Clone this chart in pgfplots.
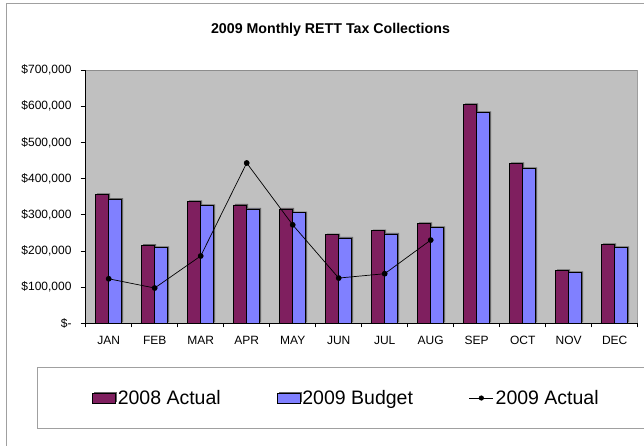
\documentclass[border=0pt]{standalone}
\usepackage{pgfplots}
\pgfplotsset{compat=1.18}
\usepackage{fontspec}
\setmainfont{Liberation Sans}
\definecolor{plum}{HTML}{7F1F5F}
\definecolor{peri}{HTML}{8080FF}
\definecolor{plotbg}{HTML}{C0C0C0}
\definecolor{framegray}{HTML}{A0A0A0}
\definecolor{boxgray}{HTML}{8C8C8C}
\begin{document}
\begin{tikzpicture}[x=1bp,y=1bp]
\useasboundingbox (0,0) rectangle (644,446);
\draw[framegray, line width=1bp] (6.7,-20) -- (6.7,442) -- (700,442);
\draw[framegray, line width=1bp] (37.3,17) rectangle (700,78.3);
\node[anchor=base, font=\fontsize{14.2bp}{16bp}\selectfont\bfseries] at (330.5,412.7) {2009 Monthly RETT Tax Collections};
\begin{axis}[
  at={(85.7bp,122.7bp)}, anchor=south west,
  scale only axis, width=552bp, height=253.3bp,
  xmin=-0.5, xmax=11.5, ymin=0, ymax=700000,
  axis lines*=left,
  axis line style={black, line width=0.8bp},
  axis background/.style={fill=plotbg},
  tick align=outside,
  /pgf/number format/assume math mode=true,
  xtick={0,...,11},
  xticklabels={JAN,FEB,MAR,APR,MAY,JUN,JUL,AUG,SEP,OCT,NOV,DEC},
  major x tick style={draw=none},
  minor xtick={-0.5,0.5,...,11.5},
  minor tick length=4bp,
  major tick length=5bp,
  tick style={black, line width=0.6bp},
  ytick={0,100000,...,700000},
  yticklabels={{\$-\hspace{8.7bp}},{\$100,000},{\$200,000},{\$300,000},{\$400,000},{\$500,000},{\$600,000},{\$700,000}},
  scaled y ticks=false,
  ticklabel style={font=\fontsize{12bp}{14bp}\selectfont},
  yticklabel style={inner sep=0pt, xshift=-9bp},
  xticklabel style={inner sep=0pt, yshift=-8bp},
  legend columns=3,
  legend style={at={(0.0114,-0.295)}, anchor=west, draw=none, fill=none,
    inner sep=0pt, font=\fontsize{19.5bp}{22bp}\selectfont,
    /tikz/every odd column/.append style={column sep=2bp},
    /tikz/every even column/.append style={column sep=56bp},
    nodes={inner sep=0pt}},
  legend cell align=left,
]
\draw[boxgray, line width=0.8bp] (rel axis cs:0,1) -- (rel axis cs:1,1) -- (rel axis cs:1,0);
\addplot[ybar, bar width=13bp, bar shift=-6.5bp, fill=plum, draw=black, line width=0.6bp,
  preaction={draw=none, fill=black!60, transform canvas={xshift=1.5bp,yshift=1bp}},
  legend image code/.code={\draw[fill=plum, draw=black, line width=0.6bp] (0bp,-5bp) rectangle (23bp,5bp);}]
  coordinates {(0,356000)(1,216000)(2,337000)(3,327000)(4,316000)(5,245000)(6,256000)(7,276000)(8,605000)(9,442000)(10,146000)(11,218000)};
\addlegendentry{2008 Actual}
\addplot[ybar, bar width=13bp, bar shift=6.5bp, fill=peri, draw=black, line width=0.6bp,
  preaction={draw=none, fill=black!60, transform canvas={xshift=1.5bp,yshift=1bp}},
  legend image code/.code={\draw[fill=peri, draw=black, line width=0.6bp] (0bp,-5bp) rectangle (23bp,5bp);}]
  coordinates {(0,343000)(1,210000)(2,326000)(3,316000)(4,306000)(5,236000)(6,247000)(7,265000)(8,583000)(9,428000)(10,141000)(11,210000)};
\addlegendentry{2009 Budget}
\addplot[sharp plot, black, line width=0.7bp, mark=*, mark size=2.5bp, mark options={fill=black},
  legend image code/.code={\draw[black, line width=0.7bp] (0bp,0bp) -- (24bp,0bp); \fill[black] (12bp,0bp) circle (2.2bp);}]
  coordinates {(0,123000)(1,97500)(2,186000)(3,443000)(4,272000)(5,125000)(6,137000)(7,230000)};
\addlegendentry{2009 Actual}
\end{axis}
\end{tikzpicture}
\end{document}
